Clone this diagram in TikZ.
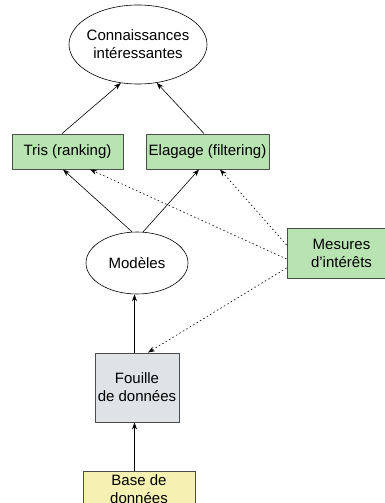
\documentclass[tikz,border=0pt]{standalone}
\usepackage{fontspec}
\setmainfont{Liberation Sans}
\usetikzlibrary{calc}
\usetikzlibrary{positioning}
\usetikzlibrary{shapes.geometric}
\usetikzlibrary{arrows.meta}
\usepackage{tikz}

\definecolor{stepgreen}{HTML}{B7E4B0}
\definecolor{minegray}{HTML}{E0E3E6}
\definecolor{baseyellow}{HTML}{F5F1B3}

\begin{document}
\begin{tikzpicture}[x=1pt, y=-1pt, line width=0.6pt,
  every node/.style={font=\fontsize{15}{18}\selectfont, align=center, inner sep=0pt},
  concept/.style={ellipse, draw=black, fill=white},
  stepbox/.style={rectangle, draw=black!70, line width=0.9pt},
  link/.style={-{Stealth[length=7pt,width=5pt]}},
  hint/.style={link, dash pattern=on 1.5pt off 2.5pt}]

\useasboundingbox (0,0) rectangle (385,503);

\node[concept, inner xsep=-6pt, minimum width=138pt, minimum height=79pt] (connaissances) at (138,44.5) {Connaissances\\intéressantes};
\node[stepbox, fill=stepgreen, minimum width=111pt, minimum height=35pt] (tris) at (67.5,151.5) {Tris (ranking)};
\node[stepbox, fill=stepgreen, minimum width=123pt, minimum height=35pt] (elagage) at (207.5,151.5) {Elagage (filtering)};
\node[concept, minimum width=102pt, minimum height=62pt] (modeles) at (137,263) {Modèles};
\node[stepbox, fill=stepgreen, minimum width=109pt, minimum height=50pt] (mesures) at (341.5,253) {Mesures\\d'intérêts};
\node[stepbox, fill=minegray, minimum width=84pt, minimum height=69pt] (fouille) at (137,387.5) {Fouille\\de données};
\node[stepbox, fill=baseyellow, minimum width=112pt, minimum height=36pt] (base) at (139,489) {Base de\\données};

\draw[link] ($(tris.north)+(-5.5,0)$) -- (connaissances.246);
\draw[link] ($(elagage.north)+(-3.5,0)$) -- (connaissances.296);
\draw[link] (modeles.99) -- ($(tris.south)+(-4.5,0)$);
\draw[link] (modeles.79) -- ($(elagage.south)+(-8.5,0)$);
\draw[hint] ($(mesures.west)+(0,6)$) -- ($(tris.south)+(22.5,0)$);
\draw[hint] ($(mesures.west)+(0,-8)$) -- ($(elagage.south)+(12.5,0)$);
\draw[hint] ($(mesures.west)+(0,15)$) -- ($(fouille.north)+(11,0)$);
\draw[link] ($(fouille.north)+(-2.5,0)$) -- ($(modeles.south)+(-2.5,0)$);
\draw[link] ($(base.north)+(-4.5,0)$) -- ($(fouille.south)+(-2.5,0)$);

\end{tikzpicture}
\end{document}
